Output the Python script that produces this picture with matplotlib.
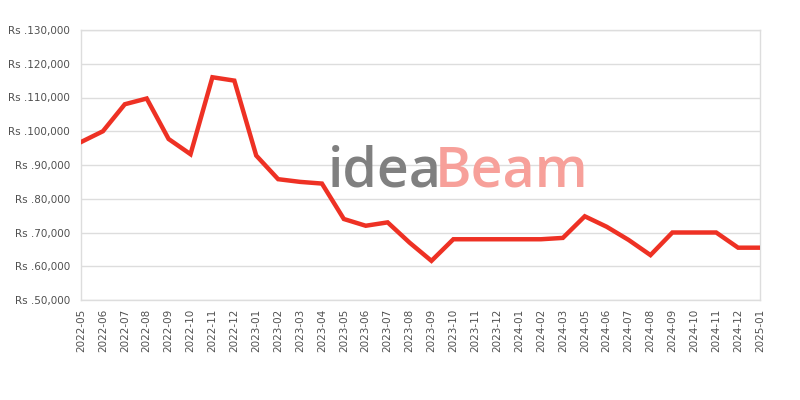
import matplotlib
matplotlib.use("Agg")
import matplotlib.pyplot as plt

months = ["2022-05", "2022-06", "2022-07", "2022-08", "2022-09", "2022-10", "2022-11", "2022-12",
          "2023-01", "2023-02", "2023-03", "2023-04", "2023-05", "2023-06", "2023-07", "2023-08",
          "2023-09", "2023-10", "2023-11", "2023-12", "2024-01", "2024-02", "2024-03", "2024-05",
          "2024-06", "2024-07", "2024-08", "2024-09", "2024-10", "2024-11", "2024-12", "2025-01"]
prices = [96800, 100000, 108000, 109700, 97700, 93200, 116000, 115000,
          92800, 85800, 85000, 84500, 74000, 72000, 73000, 67000,
          61600, 68000, 68000, 68000, 68000, 68000, 68400, 74800,
          71700, 67800, 63300, 70000, 70000, 70000, 65500, 65500]
y_ticks = [50000, 60000, 70000, 80000, 90000, 100000, 110000, 120000, 130000]

fig = plt.figure(figsize=(8, 4), dpi=100)
ax = fig.add_axes([0.10125, 0.25, 0.84875, 0.675])

x = list(range(len(months)))
ax.plot(x, prices, color="#ee3124", lw=3.2, solid_joinstyle="miter", zorder=3)

ax.set_xlim(0, len(months) - 1)
ax.set_ylim(50000, 130000)
ax.set_yticks(y_ticks)
ax.set_yticklabels(["Rs .{:,}".format(v) for v in y_ticks])
ax.set_xticks(x)
ax.set_xticklabels(months, rotation=90)
ax.tick_params(axis="both", length=0, labelsize=7.5, colors="#505050")
ax.tick_params(axis="x", pad=6)
ax.tick_params(axis="y", pad=8)
ax.grid(axis="y", color="#dddddd", lw=1)
for s in ax.spines.values():
    s.set_color("#dddddd")
    s.set_linewidth(1)

# watermark
fig.text(0.410, 0.57, "idea", color="#808080", fontsize=40, family="Open Sans",
         fontweight="semibold", ha="left", va="center", zorder=0)
fig.text(0.543, 0.57, "Beam", color="#f7a09a", fontsize=40, family="Open Sans",
         fontweight="semibold", ha="left", va="center", zorder=0)

fig.savefig("out.png", dpi=100)
